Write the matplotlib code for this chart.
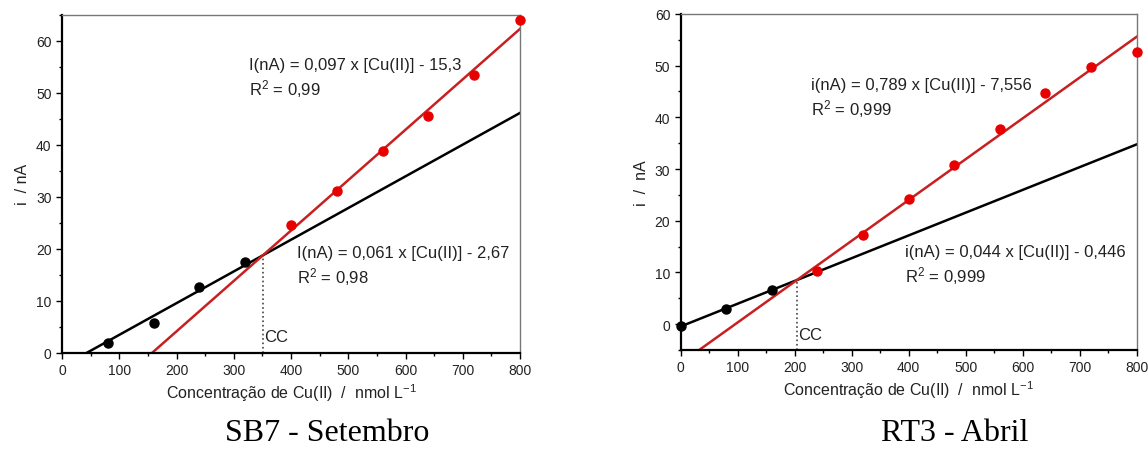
import numpy as np
import matplotlib
matplotlib.use('Agg')
import matplotlib.pyplot as plt
from matplotlib.ticker import MultipleLocator

plt.rcParams['font.family'] = ['Liberation Sans', 'DejaVu Sans']
plt.rcParams['mathtext.fontset'] = 'custom'
plt.rcParams['mathtext.rm'] = 'Liberation Sans'
plt.rcParams['mathtext.it'] = 'Liberation Sans:italic'

# SB7 - Setembro
sb7_x_blk = [80, 160, 240, 320]
sb7_y_blk = [1.8, 5.7, 12.6, 17.4]
sb7_x_red = [400, 480, 560, 640, 720, 800]
sb7_y_red = [24.5, 31.1, 38.8, 45.5, 53.5, 64.0]
sb7_fit_blk = (0.061, -2.67)
sb7_fit_red = (0.097, -15.3)
sb7_eq_red = ['I(nA) = 0,097 x [Cu(II)] - 15,3', 'R$^2$ = 0,99']
sb7_eq_blk = ['I(nA) = 0,061 x [Cu(II)] - 2,67', 'R$^2$ = 0,98']

# RT3 - Abril
rt3_x_blk = [0, 80, 160]
rt3_y_blk = [-0.4, 3.0, 6.6]
rt3_x_red = [240, 320, 400, 480, 560, 640, 720, 800]
rt3_y_red = [10.2, 17.2, 24.2, 30.7, 37.7, 44.8, 49.8, 52.7]
rt3_fit_blk = (0.044, -0.446)
rt3_fit_red = (0.0789, -7.556)
rt3_eq_red = ['i(nA) = 0,789 x [Cu(II)] - 7,556', 'R$^2$ = 0,999']
rt3_eq_blk = ['i(nA) = 0,044 x [Cu(II)] - 0,446', 'R$^2$ = 0,999']

RED_PT = '#e80000'
RED_LN = '#c82020'


def panel(ax, xb, yb, xr, yr, fb, fr, eqr, eqb, ylim, posr, posb, ycc, ylab):
	xx = np.array([0, 800])
	ax.plot(xx, fb[0]*xx + fb[1], color='black', lw=1.8, zorder=2)
	ax.plot(xx, fr[0]*xx + fr[1], color=RED_LN, lw=1.8, zorder=2)
	ax.plot(xb, yb, 'o', color='black', ms=6.5, zorder=3, clip_on=False)
	ax.plot(xr, yr, 'o', color=RED_PT, ms=6.5, zorder=3, clip_on=False)

	# cross point
	xc = (fb[1]-fr[1])/(fr[0]-fb[0])
	yc = fb[0]*xc + fb[1]
	ax.plot([xc, xc], [ylim[0], yc], ls=':', color='#444444', lw=1.2)
	ax.text(xc+2, ycc, 'CC', fontsize=12, va='center', ha='left', color='#222222')

	for (px, py), eq in [(posr, eqr), (posb, eqb)]:
		ax.text(px, py, eq[0], fontsize=12, va='center', color='#222222')
		ax.text(px, py-4.6, eq[1], fontsize=12, va='center', color='#222222')

	ax.set_xlim(0, 800)
	ax.set_ylim(*ylim)
	ax.xaxis.set_major_locator(MultipleLocator(100))
	ax.xaxis.set_minor_locator(MultipleLocator(50))
	ax.yaxis.set_major_locator(MultipleLocator(10))
	ax.yaxis.set_minor_locator(MultipleLocator(5))
	ax.set_yticks([t for t in range(0, 61, 10) if t <= ylim[1]])
	ax.tick_params(which='major', direction='out', length=4, width=1, labelsize=10,
		labelcolor='#222222')
	ax.tick_params(which='minor', direction='out', length=2.5, width=1)
	for s in ['left', 'bottom']:
		ax.spines[s].set_linewidth(1.6)
		ax.spines[s].set_color('black')
	for s in ['top', 'right']:
		ax.spines[s].set_linewidth(1.0)
		ax.spines[s].set_color('#777777')

	ax.set_xlabel('Concentração de Cu(II)  /  nmol L$^{-1}$', fontsize=11.5, labelpad=3,
		color='#222222')
	ax.set_ylabel(ylab, fontsize=11.5, color='#222222')


fig = plt.figure(figsize=(11.48, 4.52), dpi=100)
ax1 = fig.add_axes([0.054, 0.2175, 0.399, 0.7475])
ax2 = fig.add_axes([0.593, 0.2235, 0.397, 0.7435])

panel(ax1, sb7_x_blk, sb7_y_blk, sb7_x_red, sb7_y_red, sb7_fit_blk, sb7_fit_red,
	sb7_eq_red, sb7_eq_blk, (0, 65), (326, 55.5), (411, 19.3), 3.1, 'i  / nA')
panel(ax2, rt3_x_blk, rt3_y_blk, rt3_x_red, rt3_y_red, rt3_fit_blk, rt3_fit_red,
	rt3_eq_red, rt3_eq_blk, (-5, 60), (228, 46.3), (394, 14.1), -2.1, 'i  /  nA')

fig.text(0.285, 0.04, 'SB7 - Setembro', ha='center', va='center', fontsize=23,
	family='Liberation Serif')
fig.text(0.832, 0.04, 'RT3 - Abril', ha='center', va='center', fontsize=23,
	family='Liberation Serif')

fig.savefig('out.png', dpi=100)
